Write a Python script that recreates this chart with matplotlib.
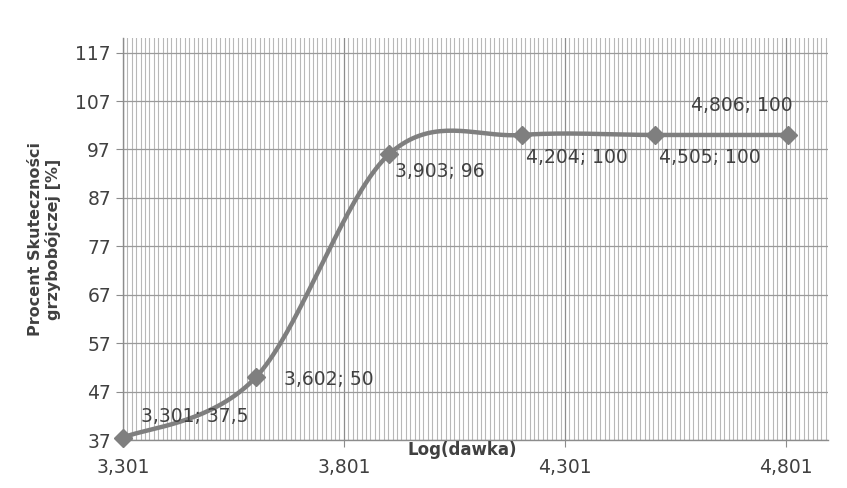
import numpy as np
import matplotlib
matplotlib.use("Agg")
import matplotlib.pyplot as plt
from matplotlib.ticker import FixedLocator, MultipleLocator

# dawka (log) i skuteczność
log_dawka = [3.301, 3.602, 3.903, 4.204, 4.505, 4.806]
skutecznosc = [37.5, 50, 96, 100, 100, 100]
x_ticks = [3.301, 3.801, 4.301, 4.801]
y_ticks = [37, 47, 57, 67, 77, 87, 97, 107, 117]

# przesunięcia etykiet danych (w punktach) względem znaczników
label_offsets = [(13, 15), (20, -2), (4, -12), (3, -16), (3, -16), (-70, 21)]

GRAY = "#7f7f7f"
TXT = "#404040"


def pl(v):
    return f"{v:g}".replace(".", ",")


def smooth(xs, ys, n=40):
    # krzywa Beziera w stylu Excela (Catmull-Rom, napięcie 1/6)
    p = np.column_stack([xs, ys]).astype(float)
    p = np.vstack([p[0], p, p[-1]])
    out = []
    for i in range(1, len(p) - 2):
        p0, p1, p2, p3 = p[i - 1], p[i], p[i + 1], p[i + 2]
        c1 = p1 + (p2 - p0) / 6
        c2 = p2 - (p3 - p1) / 6
        t = np.linspace(0, 1, n)[:, None]
        seg = ((1 - t) ** 3) * p1 + 3 * ((1 - t) ** 2) * t * c1 + 3 * (1 - t) * t ** 2 * c2 + t ** 3 * p2
        out.append(seg if i == 1 else seg[1:])
    seg = np.vstack(out)
    return seg[:, 0], seg[:, 1]


fig = plt.figure(figsize=(8.47, 4.88), dpi=100)
ax = fig.add_axes([0.145, 0.098, 0.8326, 0.824])

ax.set_xlim(3.301, 4.896)
ax.set_ylim(37, 120)

ax.xaxis.set_major_locator(FixedLocator(x_ticks))
ax.xaxis.set_minor_locator(FixedLocator(np.arange(3.301, 4.896, 0.01)))
ax.yaxis.set_major_locator(FixedLocator(y_ticks))
ax.set_xticklabels([pl(v) for v in x_ticks])
ax.set_yticklabels([str(v) for v in y_ticks])

ax.grid(which="minor", axis="x", color="#b8b8b8", linewidth=0.8)
ax.grid(which="major", axis="x", color="#8c8c8c", linewidth=0.9)
ax.grid(which="major", axis="y", color="#9a9a9a", linewidth=0.9)
ax.set_axisbelow(True)

for s in ["top", "right"]:
    ax.spines[s].set_visible(False)
for s in ["left", "bottom"]:
    ax.spines[s].set_color("#8c8c8c")
    ax.spines[s].set_linewidth(1.0)

ax.tick_params(axis="both", which="major", length=5, color="#8c8c8c",
               labelsize=13.5, labelcolor=TXT, direction="out")
ax.tick_params(axis="x", which="minor", length=0)
ax.tick_params(axis="x", pad=8)

sx, sy = smooth(log_dawka, skutecznosc)
ax.plot(sx, sy, color=GRAY, linewidth=3.2, solid_capstyle="round", clip_on=False, zorder=3)
ax.plot(log_dawka, skutecznosc, linestyle="none", marker="D", markersize=9,
        color=GRAY, clip_on=False, zorder=4)

for x, y, off in zip(log_dawka, skutecznosc, label_offsets):
    ax.annotate(f"{pl(x)}; {pl(y)}", (x, y), xytext=off, textcoords="offset points",
                ha="left", va="center", fontsize=13.5, color=TXT, zorder=5)

ax.set_ylabel("Procent Skuteczności\ngrzybobójczej [%]", fontsize=11.5,
              fontweight="bold", color=TXT, labelpad=10)
fig.text(0.546, 0.077, "Log(dawka)", ha="center", va="center", fontsize=12,
         fontweight="bold", color=TXT)

fig.savefig("out.png", dpi=100, facecolor="white")
